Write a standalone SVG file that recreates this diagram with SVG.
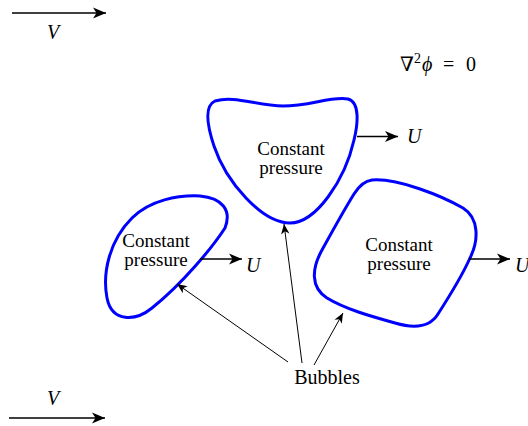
<svg xmlns="http://www.w3.org/2000/svg" width="528" height="426" viewBox="0 0 528 426">
<style>
.bub{fill:none;stroke:#0000ff;stroke-width:3;stroke-linejoin:round}
.arr{stroke:#000;stroke-width:1.4;fill:none}
.thin{stroke:#000;stroke-width:1;fill:none}
text{font-family:"Liberation Serif","DejaVu Serif",serif;font-size:20px;fill:#000}
.lbl{text-anchor:middle}
.nd{font-size:19px}
.it{font-style:italic}
</style>
<defs>
<marker id="big" markerUnits="userSpaceOnUse" markerWidth="14" markerHeight="12" refX="13" refY="6" orient="auto" overflow="visible">
<path d="M13,6 L0,0.5 L3.5,6 L0,11.5 Z" fill="#000"/>
</marker>
<marker id="small" markerUnits="userSpaceOnUse" markerWidth="11" markerHeight="10" refX="10" refY="5" orient="auto" overflow="visible">
<path d="M10,5 L0,0.8 L2.8,5 L0,9.2 Z" fill="#000"/>
</marker>
</defs>
<rect width="528" height="426" fill="#fff"/>
<g id="flow-top">
<line class="arr" x1="12" y1="13" x2="106" y2="13" marker-end="url(#big)"/>
<text class="lbl it" x="53" y="39">V</text>
</g>
<g id="flow-bottom">
<line class="arr" x1="9" y1="418" x2="105" y2="418" marker-end="url(#big)"/>
<text class="lbl it" x="53" y="405">V</text>
</g>
<g id="equation">
<text x="400" y="71">∇<tspan font-size="14" dy="-8">2</tspan><tspan class="it" dy="8" x="422">ϕ</tspan><tspan x="443">=</tspan><tspan x="466">0</tspan></text>
</g>
<g id="bubble-top">
<path class="bub" d="M290,223 C262,223 226,182 214,146 C207,125 204,106 215,101 C235,95 257,106 283,106 C310,106 331,96 348,99 C360,102 358,124 354,140 C345,180 316,223 290,223 Z"/>
<text class="lbl nd" x="291" y="155">Constant</text>
<text class="lbl nd" x="291" y="174">pressure</text>
<line class="arr" x1="357" y1="136.5" x2="398" y2="136.5" marker-end="url(#big)"/>
<text class="it" x="407" y="143">U</text>
</g>
<g id="bubble-left">
<path class="bub" d="M225,228 C212,248 182,284 152,308 C136,321 112,323 107,298 C102,272 110,240 132,218 C150,200 178,195 200,196 C222,198 232,210 225,228 Z"/>
<text class="lbl nd" x="156" y="247">Constant</text>
<text class="lbl nd" x="156" y="266">pressure</text>
<line class="arr" x1="200" y1="259" x2="242" y2="259" marker-end="url(#big)"/>
<text class="it" x="246" y="272">U</text>
</g>
<g id="bubble-right">
<path class="bub" d="M372,180 C398,178 442,196 463,208 C479,218 479,240 470,258 C462,276 447,300 438,314 C430,327 415,329 395,323 C370,316 345,309 327,298 C310,287 312,268 322,250 C333,230 344,210 354,194 C359,186 364,181 372,180 Z"/>
<text class="lbl nd" x="399" y="251">Constant</text>
<text class="lbl nd" x="399" y="270">pressure</text>
<line class="arr" x1="469" y1="259" x2="510" y2="259" marker-end="url(#big)"/>
<text class="it" x="515" y="272">U</text>
</g>
<g id="label-bubbles">
<text class="lbl" x="327" y="384">Bubbles</text>
</g>
<g id="connectors">
<line class="thin" x1="288" y1="362" x2="177" y2="284" marker-end="url(#small)"/>
<line class="thin" x1="302" y1="363" x2="284" y2="224" marker-end="url(#small)"/>
<line class="thin" x1="314" y1="365" x2="343" y2="313" marker-end="url(#small)"/>
</g>
</svg>
